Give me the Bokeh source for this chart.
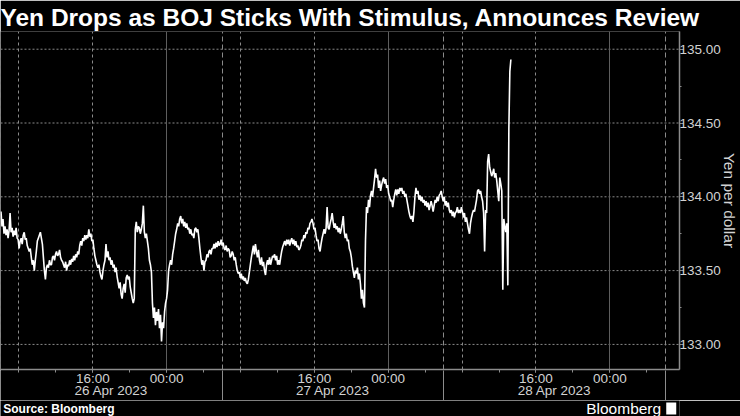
import pandas as pd
from bokeh.plotting import figure
from bokeh.layouts import column
from bokeh.core.properties import value
from bokeh.models import (Range1d, DatetimeAxis, LinearAxis, FixedTicker, DatetimeTickFormatter,
                          PrintfTickFormatter, Grid, Span, ColumnDataSource)
from bokeh.embed import file_html
from bokeh.resources import INLINE

title_text = "Yen Drops as BOJ Sticks With Stimulus, Announces Review"
y_axis_title = "Yen per dollar"
source_text = "Source: Bloomberg"
brand_text = "Bloomberg"

# USD/JPY quotes, evenly sampled between first and last quote shown
first_quote = "2023-04-26 06:03"
last_quote = "2023-04-28 13:17"
usd_jpy = [
    133.90, 133.80, 133.85, 133.75, 133.80, 133.74, 133.78, 133.72, 133.77, 133.89,
    133.76, 133.79, 133.73, 133.77, 133.74, 133.79, 133.72, 133.71, 133.65, 133.70,
    133.72, 133.68, 133.74, 133.76, 133.71, 133.72, 133.67, 133.65, 133.63, 133.65,
    133.59, 133.54, 133.57, 133.50, 133.57, 133.63, 133.70, 133.72, 133.74, 133.76,
    133.72, 133.68, 133.59, 133.50, 133.44, 133.52, 133.54, 133.52, 133.57, 133.54,
    133.54, 133.59, 133.60, 133.57, 133.61, 133.63, 133.60, 133.61, 133.64, 133.59,
    133.57, 133.56, 133.54, 133.52, 133.56, 133.50, 133.54, 133.53, 133.57, 133.54,
    133.58, 133.56, 133.60, 133.57, 133.61, 133.59, 133.63, 133.61, 133.67, 133.70,
    133.67, 133.72, 133.70, 133.74, 133.71, 133.74, 133.72, 133.78, 133.73, 133.75,
    133.70, 133.71, 133.65, 133.60, 133.57, 133.54, 133.52, 133.54, 133.49, 133.46,
    133.44, 133.50, 133.54, 133.57, 133.68, 133.59, 133.63, 133.57, 133.59, 133.54,
    133.57, 133.52, 133.54, 133.49, 133.52, 133.46, 133.42, 133.38, 133.42, 133.34,
    133.31, 133.38, 133.41, 133.35, 133.45, 133.47, 133.44, 133.46, 133.39, 133.35,
    133.31, 133.28, 133.31, 133.78, 133.83, 133.76, 133.80, 133.79, 133.75, 133.78,
    133.82, 133.94, 133.76, 133.72, 133.75, 133.70, 133.65, 133.57, 133.54, 133.49,
    133.28, 133.18, 133.25, 133.13, 133.22, 133.16, 133.24, 133.11, 133.20, 133.02,
    133.15, 133.11, 133.22, 133.28, 133.31, 133.37, 133.50, 133.54, 133.57, 133.54,
    133.61, 133.65, 133.70, 133.75, 133.78, 133.82, 133.80, 133.85, 133.87, 133.82,
    133.85, 133.80, 133.83, 133.79, 133.82, 133.78, 133.79, 133.75, 133.78, 133.74,
    133.75, 133.72, 133.78, 133.79, 133.76, 133.78, 133.72, 133.65, 133.59, 133.54,
    133.57, 133.50, 133.56, 133.57, 133.61, 133.59, 133.63, 133.64, 133.61, 133.65,
    133.65, 133.68, 133.65, 133.69, 133.66, 133.70, 133.67, 133.68, 133.71, 133.67,
    133.69, 133.65, 133.64, 133.67, 133.63, 133.65, 133.64, 133.59, 133.60, 133.63,
    133.61, 133.57, 133.59, 133.54, 133.50, 133.48, 133.49, 133.45, 133.48, 133.44,
    133.46, 133.43, 133.45, 133.42, 133.41, 133.44, 133.49, 133.54, 133.59, 133.63,
    133.67, 133.61, 133.68, 133.63, 133.59, 133.64, 133.57, 133.54, 133.59, 133.53,
    133.56, 133.50, 133.47, 133.54, 133.57, 133.54, 133.59, 133.54, 133.57, 133.60,
    133.59, 133.61, 133.57, 133.60, 133.54, 133.57, 133.54, 133.59, 133.63, 133.66,
    133.68, 133.70, 133.67, 133.71, 133.68, 133.71, 133.67, 133.70, 133.72, 133.68,
    133.71, 133.67, 133.70, 133.66, 133.67, 133.64, 133.65, 133.67, 133.71, 133.70,
    133.74, 133.72, 133.76, 133.75, 133.79, 133.78, 133.82, 133.83, 133.85, 133.82,
    133.78, 133.79, 133.74, 133.70, 133.71, 133.65, 133.63, 133.68, 133.72, 133.75,
    133.78, 133.75, 133.79, 133.93, 133.79, 133.78, 133.82, 133.85, 133.89, 133.83,
    133.79, 133.82, 133.78, 133.80, 133.76, 133.79, 133.75, 133.78, 133.82, 133.87,
    133.76, 133.72, 133.75, 133.70, 133.71, 133.65, 133.63, 133.59, 133.53, 133.49,
    133.45, 133.50, 133.48, 133.52, 133.44, 133.48, 133.41, 133.31, 133.37, 133.28,
    133.25, 133.70, 133.93, 133.89, 133.98, 133.93, 134.01, 134.04, 134.00, 134.06,
    134.12, 134.19, 134.13, 134.15, 134.06, 134.11, 134.04, 134.08, 134.11, 134.13,
    134.09, 134.12, 134.06, 134.08, 134.02, 134.00, 133.97, 133.98, 133.93, 133.98,
    134.02, 134.05, 134.01, 134.05, 134.02, 134.06, 134.04, 134.06, 134.02, 134.04,
    134.00, 134.02, 133.98, 133.94, 133.90, 133.87, 133.85, 133.87, 133.83, 133.90,
    134.00, 134.06, 134.02, 134.04, 133.98, 134.01, 133.97, 134.00, 133.96, 133.98,
    133.94, 133.97, 133.93, 133.96, 133.91, 133.94, 133.97, 133.94, 133.90, 133.94,
    133.98, 133.96, 134.00, 133.97, 134.01, 134.02, 134.04, 134.00, 133.97, 134.00,
    133.94, 133.97, 133.93, 133.96, 133.91, 133.89, 133.91, 133.87, 133.90, 133.86,
    133.89, 133.90, 133.93, 133.89, 133.91, 133.89, 133.93, 133.90, 133.86, 133.89,
    133.83, 133.86, 133.82, 133.78, 133.75, 133.82, 133.86, 133.89, 133.91, 133.90,
    133.94, 133.98, 134.04, 134.05, 134.02, 134.04, 134.00, 133.97, 133.89, 133.63,
    133.91, 133.89, 134.24, 134.29, 134.20, 134.17, 134.14, 134.16, 134.19, 134.13,
    134.16, 134.11, 134.04, 133.97, 134.13, 134.09, 134.04, 133.37, 133.85, 133.80,
    133.76, 133.82, 133.40, 134.46, 134.85, 134.93,
]

y_ticks = [133.0, 133.5, 134.0, 134.5, 135.0]
y_minor_ticks = [133.25, 133.75, 134.25, 134.75]
time_label_ticks = ["2023-04-26 16:00", "2023-04-27 00:00", "2023-04-27 16:00",
                    "2023-04-28 00:00", "2023-04-28 16:00", "2023-04-29 00:00"]
four_hour_ticks = ["2023-04-26 08:00", "2023-04-26 12:00", "2023-04-26 16:00", "2023-04-26 20:00",
                   "2023-04-27 00:00", "2023-04-27 04:00", "2023-04-27 08:00", "2023-04-27 12:00",
                   "2023-04-27 16:00", "2023-04-27 20:00", "2023-04-28 00:00", "2023-04-28 04:00",
                   "2023-04-28 08:00", "2023-04-28 12:00", "2023-04-28 16:00", "2023-04-28 20:00",
                   "2023-04-29 00:00", "2023-04-29 04:00"]
dotted_grid_times = ["2023-04-26 08:00", "2023-04-26 16:00", "2023-04-27 08:00", "2023-04-27 16:00",
                     "2023-04-28 08:00", "2023-04-28 16:00"]
solid_grid_times = ["2023-04-27 00:00", "2023-04-28 00:00", "2023-04-29 00:00"]
day_breaks = ["2023-04-26 06:00", "2023-04-27 06:00", "2023-04-28 06:00", "2023-04-29 06:00"]
date_label_ticks = ["2023-04-26 18:00", "2023-04-27 18:00", "2023-04-28 18:00"]
x_start, x_end = "2023-04-26 05:59:50", "2023-04-29 07:33"
y_start, y_end = 132.83, 135.12


def ms(t):
    return pd.Timestamp(t).value / 1e6


times = pd.date_range(first_quote, last_quote, periods=len(usd_jpy))
src = ColumnDataSource(data=dict(t=times, px=usd_jpy))

AXIS = "#8c8c8c"
TXT = "#d2d2d2"
GRID = "#8a8a8a"
FONT = "Liberation Sans"
W = 740
MAIN_H, FOOT_H = 400, 16

p = figure(width=W, height=MAIN_H, output_backend="svg", toolbar_location=None,
           x_axis_type=None, y_axis_type=None,
           x_range=Range1d(ms(x_start), ms(x_end)), y_range=Range1d(y_start, y_end),
           min_border=0, min_border_left=0, min_border_right=0, min_border_top=0,
           min_border_bottom=0,
           background_fill_color="black", border_fill_color="black", outline_line_color=None)

p.title.text = title_text
p.title.text_font = FONT
p.title.text_font_size = "24.5px"
p.title.text_font_style = "bold"
p.title.text_color = "white"
p.title.align = "left"
p.title.offset = 0
p.title.standoff = 2

# grids
for v in y_ticks:
    p.add_layout(Span(location=v, dimension="width", line_color=GRID, line_dash="2 2",
                      line_width=1, level="underlay"))
p.add_layout(Grid(dimension=0, ticker=FixedTicker(ticks=[ms(t) for t in dotted_grid_times]),
                  grid_line_color=GRID, grid_line_dash="3 3", grid_line_width=1))
p.add_layout(Grid(dimension=0, ticker=FixedTicker(ticks=[ms(t) for t in solid_grid_times]),
                  grid_line_color="#5e5e5e", grid_line_width=1))
p.add_layout(Grid(dimension=0, ticker=FixedTicker(ticks=[ms(t) for t in day_breaks]),
                  grid_line_color=GRID, grid_line_dash="5 3", grid_line_width=1))

p.line(x="t", y="px", source=src, line_color="white", line_width=1.6)

# right value axis
yax = LinearAxis(ticker=FixedTicker(ticks=y_ticks, minor_ticks=y_minor_ticks),
                 formatter=PrintfTickFormatter(format="%.2f"),
                 axis_line_color=AXIS, axis_line_width=1.5,
                 major_tick_line_color=AXIS, major_tick_out=4, major_tick_in=0,
                 minor_tick_line_color=AXIS, minor_tick_out=2, minor_tick_in=0,
                 major_label_standoff=-4, major_label_text_color=TXT,
                 major_label_text_font=FONT, major_label_text_font_size="13.5px",
                 axis_label=y_axis_title, axis_label_standoff=-3, axis_label_text_color=TXT,
                 axis_label_text_font=FONT, axis_label_text_font_size="15.5px",
                 axis_label_text_font_style="normal")
p.add_layout(yax, "right")

hhmm = "%H:%M"
fmt_time = DatetimeTickFormatter(microseconds=hhmm, milliseconds=hhmm, seconds=hhmm, minsec=hhmm,
                                 minutes=hhmm, hourmin=hhmm, hours=hhmm, days=hhmm,
                                 months=hhmm, years=hhmm)
dmy = "%d %b %Y"
fmt_date = DatetimeTickFormatter(microseconds=dmy, milliseconds=dmy, seconds=dmy, minsec=dmy,
                                 minutes=dmy, hourmin=dmy, hours=dmy, days=dmy,
                                 months=dmy, years=dmy)

xa = DatetimeAxis(ticker=FixedTicker(ticks=[ms(t) for t in time_label_ticks],
                                     minor_ticks=[ms(t) for t in four_hour_ticks]),
                  formatter=fmt_time, axis_line_color=AXIS, axis_line_width=1.5,
                  major_tick_line_color=AXIS, major_tick_out=3, major_tick_in=0,
                  minor_tick_line_color=AXIS, minor_tick_out=3, minor_tick_in=0,
                  major_label_standoff=-2, major_label_text_color=TXT,
                  major_label_text_font=FONT, major_label_text_font_size="13.5px")
p.add_layout(xa, "below")

xb = DatetimeAxis(ticker=FixedTicker(ticks=[ms(t) for t in date_label_ticks]),
                  formatter=fmt_date, axis_line_color=None,
                  major_tick_line_color=None, major_tick_out=0, major_tick_in=0,
                  minor_tick_line_color=None, minor_tick_in=0, minor_tick_out=0,
                  major_label_standoff=-6, major_label_text_color=TXT,
                  major_label_text_font=FONT, major_label_text_font_size="13.5px")
p.add_layout(xb, "below")

# day separators running down through both label rows
xc = DatetimeAxis(ticker=FixedTicker(ticks=[], minor_ticks=[ms(t) for t in day_breaks]),
                  formatter=fmt_date, axis_line_color=None,
                  major_tick_line_color=None, major_tick_out=0, major_tick_in=0,
                  minor_tick_line_color=AXIS, minor_tick_in=30, minor_tick_out=0,
                  major_label_standoff=0)
p.add_layout(xc, "below")

# footer strip: source note and brand
foot = figure(width=W, height=FOOT_H, output_backend="svg", toolbar_location=None, title=None,
              x_axis_type=None, y_axis_type=None, x_range=Range1d(0, W), y_range=Range1d(0, FOOT_H),
              min_border=0, background_fill_color="black", border_fill_color="black",
              outline_line_color=None)
foot.text(x=[3], y=[FOOT_H / 2], text=[source_text], text_font=value(FONT),
          text_font_size=value("12px"), text_font_style="bold", text_color="white",
          text_align="left", text_baseline="middle")
foot.text(x=[W - 20], y=[FOOT_H / 2], text=[brand_text], text_font=value(FONT),
          text_font_size=value("15.5px"), text_color="white",
          text_align="right", text_baseline="middle")
foot.rect(x=[W - 9], y=[FOOT_H / 2], width=10, height=12, width_units="screen",
          height_units="screen", fill_color="white", line_color=None)

layout = column(p, foot, spacing=0)
open("out.html", "w").write(file_html(layout, INLINE))
